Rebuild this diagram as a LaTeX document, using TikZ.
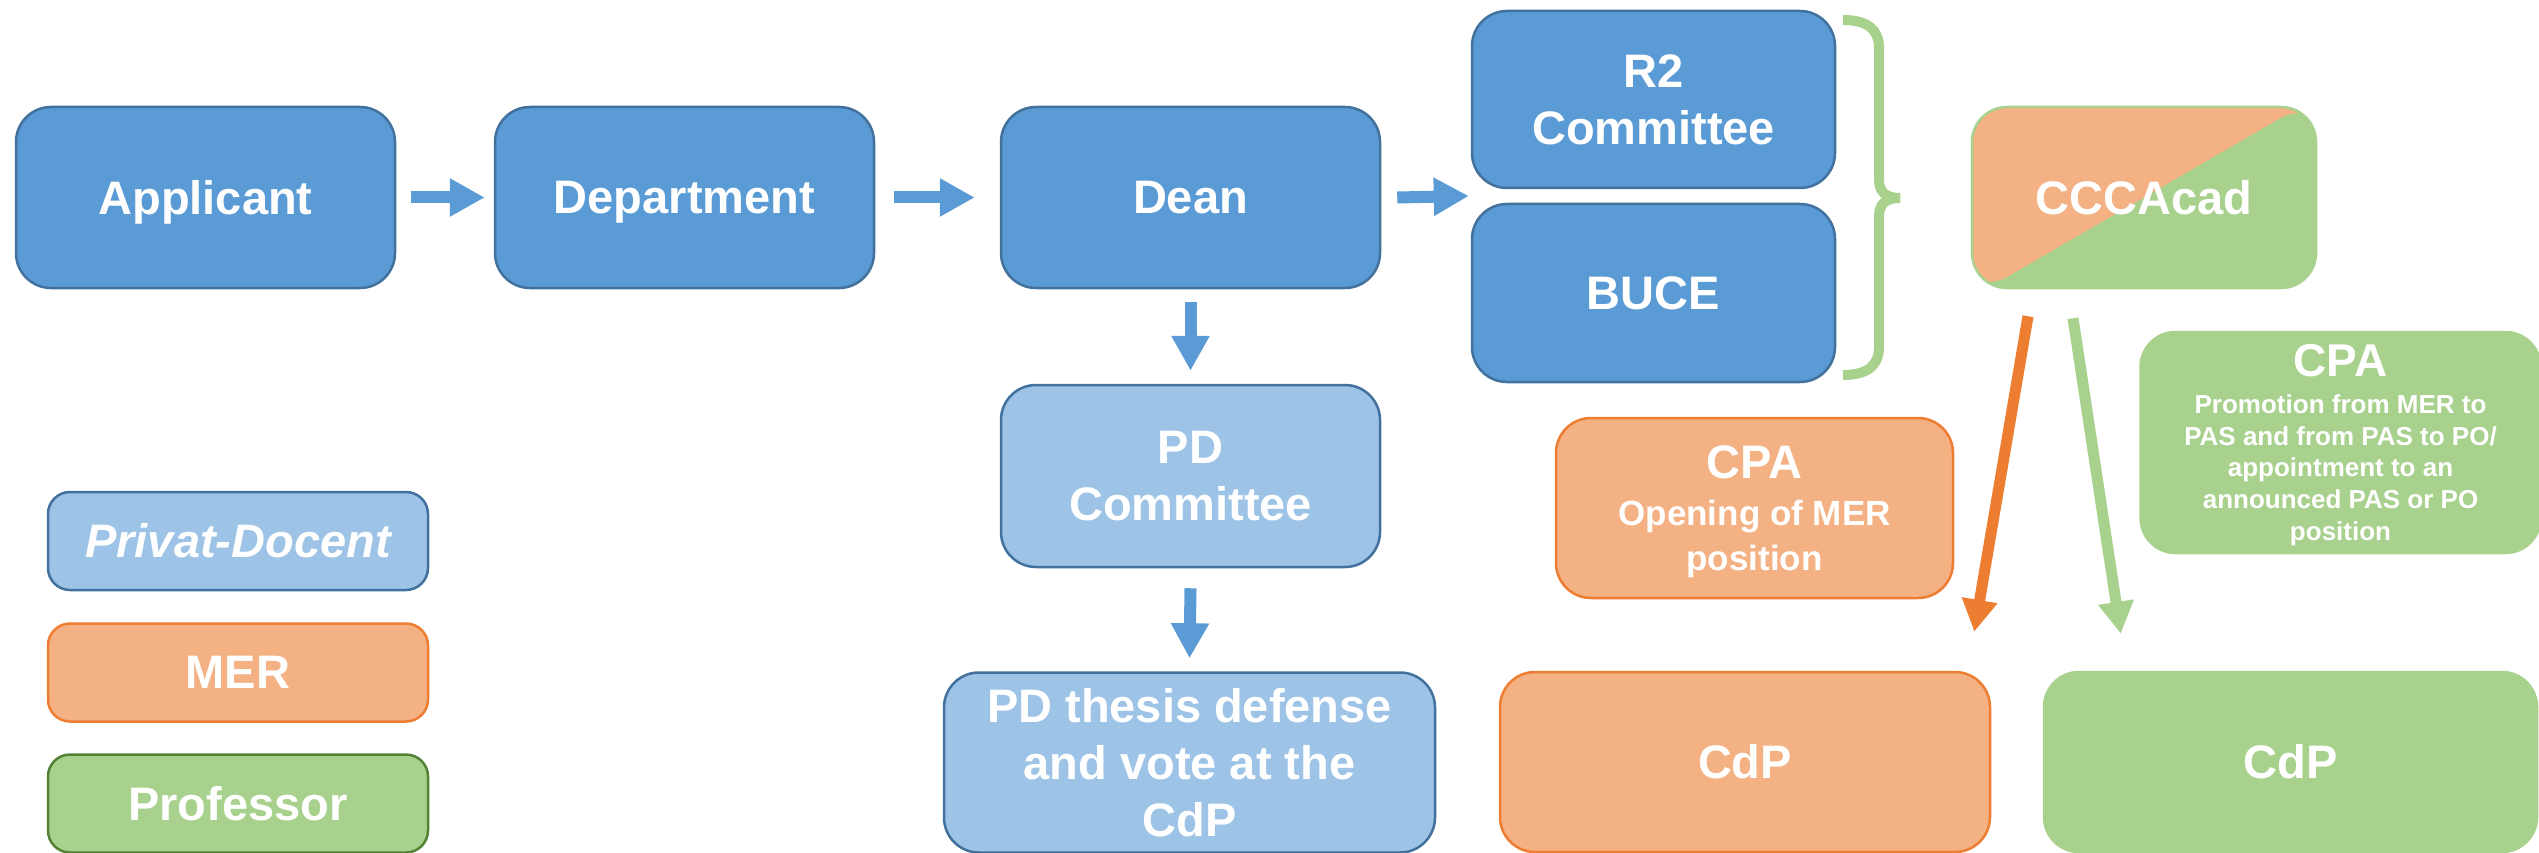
\documentclass[tikz,border=0pt]{standalone}
\usepackage{fontspec}
\setmainfont{Liberation Sans}
\usetikzlibrary{arrows.meta,calc}
\definecolor{bluefill}{HTML}{5B9BD5}
\definecolor{bluedraw}{HTML}{41719C}
\definecolor{pdfill}{HTML}{9DC3E6}
\definecolor{merfill}{HTML}{F4B183}
\definecolor{merdraw}{HTML}{ED7D31}
\definecolor{proffill}{HTML}{A9D18E}
\definecolor{profdraw}{HTML}{548235}
\tikzset{
  box/.style={rectangle, rounded corners=35pt, draw=bluedraw, fill=bluefill, line width=2.5pt,
    text=white, font=\bfseries\fontsize{47}{57}\selectfont, align=center,
    minimum width=379pt, minimum height=181pt, inner sep=0pt},
  pdbox/.style={box, fill=pdfill},
  merbox/.style={box, draw=merdraw, fill=merfill},
  profbox/.style={box, draw=proffill, fill=proffill},
  keybox/.style={minimum width=380pt, minimum height=98pt, rounded corners=22pt},
  blockarrow/.style={draw=bluefill, line width=12pt, -{Triangle[length=35pt,width=36pt]}},
  merarrow/.style={draw=merdraw, line width=11pt, -{Triangle[length=32pt,width=34pt]}},
  profarrow/.style={draw=proffill, line width=11pt, -{Triangle[length=32pt,width=34pt]}},
}
\begin{document}
\begin{tikzpicture}[x=1pt,y=-1pt]
\useasboundingbox (0,0) rectangle (2539,853);
% main line
\node[box, text depth=0pt] (app) at (205.5,197.5) {Applicant};
\node[box, text depth=0pt] (dep) at (684.5,197.5) {Department};
\node[box] (dean) at (1190.5,197.5) {Dean};
\node[box, minimum width=363pt, minimum height=177pt] (r2) at (1653.5,99.5) {R2\\Committee};
\node[box, minimum width=363pt, minimum height=178pt] (buce) at (1653.5,293) {BUCE};
\node[box, draw=proffill, fill=merfill, minimum width=344pt,
  path picture={
    \fill[proffill] ([shift={(6pt,-6pt)}]path picture bounding box.south west)
      -- ([shift={(-6pt,6pt)}]path picture bounding box.north east)
      -- (path picture bounding box.north east) -- (path picture bounding box.south east)
      -- (path picture bounding box.south west) -- cycle;
  }] (cccacad) at (2144,197.5) {CCCAcad};
% PD branch
\node[pdbox, minimum height=182pt] (pdc) at (1190.5,476) {PD\\Committee};
\node[pdbox, minimum width=491pt, minimum height=180pt] (pdt) at (1189.5,762.5) {PD thesis defense\\and vote at the\\CdP};
% CPA boxes
\node[merbox, minimum width=397pt, minimum height=180pt, text depth=0pt, font=\bfseries\fontsize{35}{45}\selectfont] (cpao) at (1754.5,508)
  {{\fontsize{47}{50}\selectfont CPA}\\[2pt]Opening of MER\\position};
\node[profbox, minimum width=400pt, minimum height=221pt, text depth=0pt, font=\bfseries\fontsize{26}{31.7}\selectfont] (cpag) at (2340.5,442.5)
  {{\fontsize{46}{50}\selectfont CPA}\\[5pt]Promotion from MER to\\PAS and from PAS to PO/\\appointment to an\\announced PAS or PO\\position};
\node[merbox, minimum width=490pt, minimum height=180pt] (cdpo) at (1745,762) {CdP};
\node[profbox, minimum width=493pt, minimum height=180pt] (cdpg) at (2290.5,762) {CdP};
% legend
\node[pdbox, keybox] (keypd) at (238,541) {\itshape Privat-Docent};
\node[merbox, keybox] (keymer) at (238,672.5) {MER};
\node[profbox, keybox, draw=profdraw] (keyprof) at (238,803.5) {Professor};
% arrows
\coordinate (rb) at ($(r2.south west)!.5!(buce.north west)$);
\draw[blockarrow] ([xshift=15pt]app.east) -- ([xshift=-9pt]dep.west);
\draw[blockarrow] ([xshift=19pt]dep.east) -- ([xshift=-25pt]dean.west);
\draw[blockarrow] ([xshift=16pt]dean.east) -- ([xshift=-2pt]rb);
\draw[blockarrow] ([yshift=-13pt]dean.south) -- ([yshift=13pt]pdc.north);
\draw[blockarrow] ([yshift=-20pt]pdc.south) -- ([yshift=13pt]pdt.north);
\draw[merarrow] ([xshift=-116pt,yshift=-27pt]cccacad.south) -- ([xshift=-17pt,yshift=39pt]cdpo.north east);
\draw[profarrow] ([xshift=-71pt,yshift=-29pt]cccacad.south) -- ([xshift=78pt,yshift=37pt]cdpg.north west);
% brace
\draw[proffill, line width=10pt] (1843,20) .. controls (1868,20) and (1879,30) .. (1879,48) -- (1879,180)
  .. controls (1879,192) and (1886,198) .. (1900,198)
  .. controls (1886,198) and (1879,204) .. (1879,216) -- (1879,347)
  .. controls (1879,365) and (1868,375) .. (1843,375);
\end{tikzpicture}
\end{document}
